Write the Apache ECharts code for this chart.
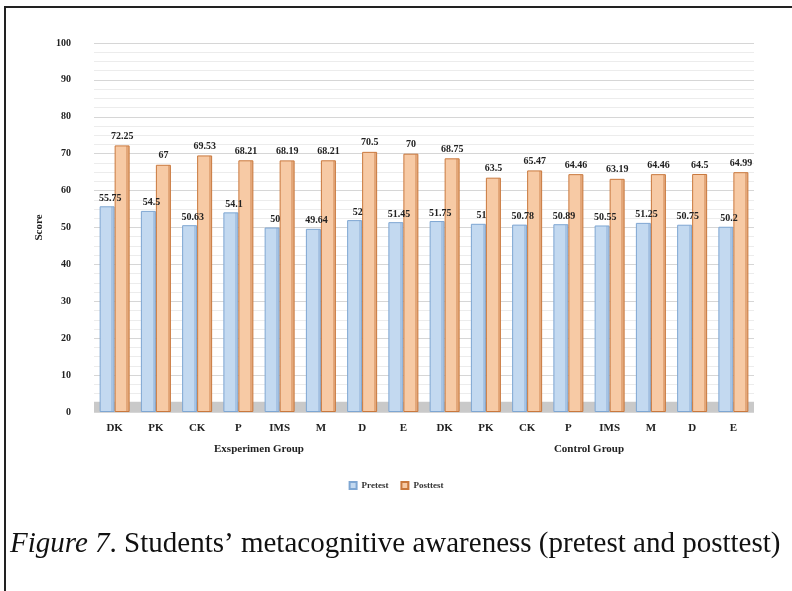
<!DOCTYPE html>
<html>
<head>
<meta charset="utf-8">
<script src="https://cdn.jsdelivr.net/npm/echarts@6/dist/echarts.min.js"></script>
<style>
  html, body { margin: 0; padding: 0; background: #fff; }
  #chart { width: 792px; height: 591px; }
</style>
</head>
<body>
<div id="chart"></div>
<script>
// Metacognitive awareness subscales, experiment group then control group
const categories = ['DK', 'PK', 'CK', 'P', 'IMS', 'M', 'D', 'E',
                    'DK', 'PK', 'CK', 'P', 'IMS', 'M', 'D', 'E'];
const groups = ['Exsperimen Group', 'Control Group'];
const pretest  = [55.75, 54.5, 50.63, 54.1, 50, 49.64, 52, 51.45,
                  51.75, 51, 50.78, 50.89, 50.55, 51.25, 50.75, 50.2];
const posttest = [72.25, 67, 69.53, 68.21, 68.19, 68.21, 70.5, 70,
                  68.75, 63.5, 65.47, 64.46, 63.19, 64.46, 64.5, 64.99];
const yTicks = { min: 0, max: 100, interval: 10 };

const serif = '"Liberation Serif", "DejaVu Serif", serif';

// flat front face with a darker strip on the right to suggest a 3D side
function barFill(light, dark) {
  return new echarts.graphic.LinearGradient(0, 0, 1, 0, [
    { offset: 0, color: light },
    { offset: 0.78, color: light },
    { offset: 0.78, color: dark },
    { offset: 1, color: dark }
  ]);
}

const chart = echarts.init(document.getElementById('chart'));
chart.setOption({
  animation: false,
  backgroundColor: '#fff',
  grid: { left: 94, right: 38, top: 43, bottom: 179 },
  legend: {
    data: ['Pretest', 'Posttest'],
    top: 476, left: 'center',
    itemWidth: 7, itemHeight: 7, itemGap: 12,
    icon: 'rect',
    textStyle: { fontFamily: serif, fontWeight: 'bold', fontSize: 9, color: '#333' }
  },
  xAxis: [{
    type: 'category',
    data: categories,
    axisLine: { show: false },
    axisTick: { show: false },
    axisLabel: { fontFamily: serif, fontWeight: 'bold', fontSize: 11, color: '#222', margin: 11 }
  }, {
    type: 'category',
    data: groups,
    position: 'bottom',
    axisLine: { show: false },
    axisTick: { show: false },
    axisLabel: { fontFamily: serif, fontWeight: 'bold', fontSize: 11, color: '#222', margin: 32 }
  }],
  yAxis: {
    type: 'value',
    min: yTicks.min, max: yTicks.max, interval: yTicks.interval,
    name: 'Score',
    nameLocation: 'middle',
    nameGap: 44,
    nameRotate: 90,
    nameTextStyle: { fontFamily: serif, fontWeight: 'bold', fontSize: 11, color: '#222' },
    axisLine: { show: false },
    axisTick: { show: false },
    axisLabel: { fontFamily: serif, fontWeight: 'bold', fontSize: 10, color: '#222', margin: 23 },
    splitLine: { lineStyle: { color: '#d6d6d6', width: 1 } },
    minorTick: { show: false, splitNumber: 4 },
    minorSplitLine: { show: true, lineStyle: { color: '#ececec', width: 1 } }
  },
  series: [{
    name: 'Pretest',
    type: 'bar',
    xAxisIndex: 0,
    data: pretest,
    barWidth: 15,
    barGap: '0%',
    itemStyle: {
      color: barFill('#c3d9f0', '#a7c3e3'),
      borderColor: '#7ea6d2',
      borderWidth: 1
    },
    label: {
      show: true, position: 'top', distance: 3, offset: [3, 0],
      fontFamily: serif, fontWeight: 'bold', fontSize: 10, color: '#222'
    },
    markArea: {
      silent: true,
      itemStyle: { color: '#c9c9c9' },
      data: [[{ yAxis: 0 }, { yAxis: 2.8 }]]
    }
  }, {
    name: 'Posttest',
    type: 'bar',
    xAxisIndex: 0,
    data: posttest,
    barWidth: 15,
    itemStyle: {
      color: barFill('#f7caa5', '#e3a77a'),
      borderColor: '#c9783d',
      borderWidth: 1
    },
    label: {
      show: true, position: 'top', distance: 4,
      fontFamily: serif, fontWeight: 'bold', fontSize: 10, color: '#222'
    }
  }],
  color: ['#bcd5ee', '#f5c39c'],
  graphic: [{
    type: 'rect',
    shape: { x: 5, y: 7, width: 800, height: 600 },
    style: { fill: 'none', stroke: '#222', lineWidth: 2 },
    silent: true
  }, {
    type: 'text',
    left: 10, top: 530,
    style: {
      text: '{i|Figure 7}. Students’ metacognitive awareness (pretest and posttest)',
      fontFamily: serif, fontSize: 29, fill: '#111',
      rich: { i: { fontFamily: serif, fontStyle: 'italic', fontSize: 29, fill: '#111' } }
    }
  }]
});
</script>
</body>
</html>
